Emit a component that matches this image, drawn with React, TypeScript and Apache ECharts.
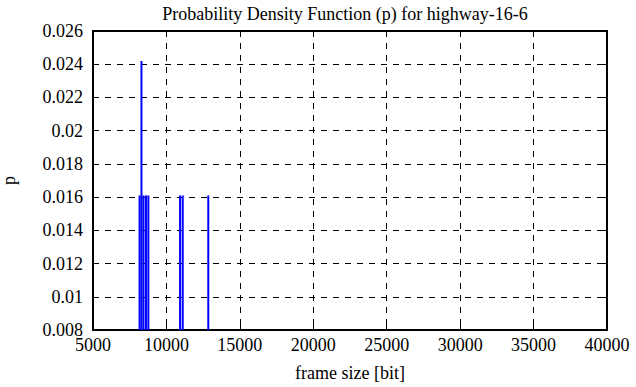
import React, { useEffect, useRef } from "react";
import * as echarts from "echarts";

const titleText = "Probability Density Function (p) for highway-16-6";
const xName = "frame size [bit]";
const yName = "p";
const frameSizes = [8170, 8300, 8440, 8610, 8770, 10930, 11110, 12850];
const probabilities = [0.0161, 0.0242, 0.0161, 0.0161, 0.0161, 0.0161, 0.0161, 0.0161];

const FONT = "Liberation Serif";

export default function App() {
  const ref = useRef<HTMLDivElement>(null);
  useEffect(() => {
    if (!ref.current) return;
    const chart = echarts.init(ref.current, undefined, { renderer: "svg" });
    const axisCommon = {
      axisLine: { show: true, lineStyle: { color: "#000", width: 2 } },
      axisTick: { show: true, inside: true, length: 6, lineStyle: { color: "#000", width: 1 } },
    };
    chart.setOption({
      animation: false,
      backgroundColor: "#fff",
      title: {
        text: titleText,
        left: 340,
        textAlign: "center",
        top: 0,
        textStyle: { fontFamily: FONT, fontSize: 18, fontWeight: "normal", color: "#000" },
      },
      grid: {
        left: 93,
        right: 29,
        top: 31,
        bottom: 57,
        show: false,
        containLabel: false,
        outerBoundsMode: "none",
      },
      xAxis: [
        {
          type: "value",
          min: 5000,
          max: 40000,
          interval: 5000,
          position: "bottom",
          name: xName,
          nameLocation: "middle",
          nameGap: 34,
          nameTextStyle: { fontFamily: FONT, fontSize: 18, color: "#000" },
          axisLabel: {
            fontFamily: FONT,
            fontSize: 18,
            color: "#000",
            margin: 6,
            formatter: (v: number) => String(v),
          },
          splitLine: { show: true, lineStyle: { color: "#000", width: 1, type: [6, 6] } },
          ...axisCommon,
        },
        {
          type: "value",
          min: 5000,
          max: 40000,
          interval: 5000,
          position: "top",
          axisLabel: { show: false },
          splitLine: { show: false },
          ...axisCommon,
        },
      ],
      yAxis: [
        {
          type: "value",
          min: 0.008,
          max: 0.026,
          interval: 0.002,
          position: "left",
          name: yName,
          nameLocation: "middle",
          nameGap: 75,
          nameTextStyle: { fontFamily: FONT, fontSize: 18, color: "#000" },
          axisLabel: {
            fontFamily: FONT,
            fontSize: 18,
            color: "#000",
            margin: 10,
            formatter: (v: number) => String(parseFloat(v.toFixed(4))),
          },
          splitLine: { show: true, lineStyle: { color: "#000", width: 1, type: [6, 6] } },
          ...axisCommon,
        },
        {
          type: "value",
          min: 0.008,
          max: 0.026,
          interval: 0.002,
          position: "right",
          axisLabel: { show: false },
          splitLine: { show: false },
          ...axisCommon,
        },
      ],
      series: [
        {
          type: "bar",
          xAxisIndex: 0,
          yAxisIndex: 0,
          barWidth: 2,
          itemStyle: { color: "#0000ff" },
          data: frameSizes.map((f, i) => [f, probabilities[i]]),
        },
      ],
    });
    return () => chart.dispose();
  }, []);
  return (
    <div
      ref={ref}
      style={{ position: "absolute", left: 0, top: 0, width: 636, height: 387 }}
    />
  );
}
